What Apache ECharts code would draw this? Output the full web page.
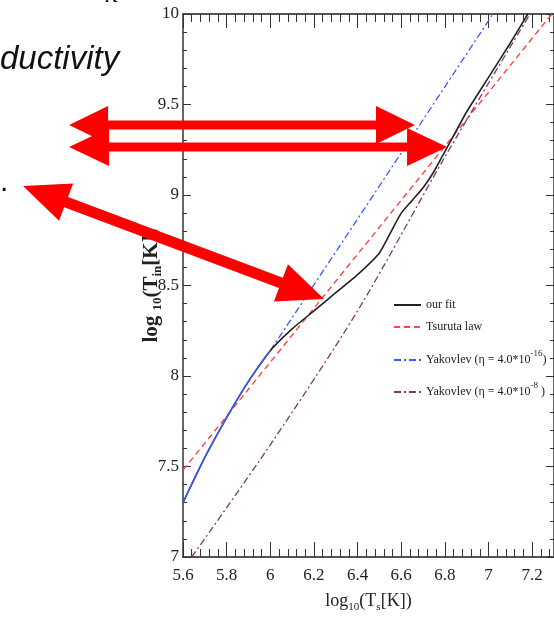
<!DOCTYPE html>
<html>
<head>
<meta charset="utf-8">
<script src="https://cdn.jsdelivr.net/npm/echarts@6/dist/echarts.min.js"></script>
<style>html,body{margin:0;padding:0;background:#fff}#main{width:554px;height:631px}</style>
</head>
<body>
<div id="main"></div>
<script>
// our fit
var fitX = [5.6, 5.7, 5.8, 5.9, 6.0, 6.1, 6.2, 6.3, 6.4, 6.5, 6.55, 6.6, 6.65, 6.7, 6.75, 6.8, 6.85, 6.9, 7.0, 7.1, 7.18];
var fitY = [7.30, 7.55, 7.77, 7.97, 8.14, 8.26, 8.36, 8.46, 8.56, 8.68, 8.79, 8.90, 8.97, 9.04, 9.13, 9.24, 9.35, 9.46, 9.65, 9.84, 10.0];
// Tsuruta law
var tsuX = [5.6, 7.29];
var tsuY = [7.48, 10.0];
// Yakovlev eta = 4.0e-16 (solid part under 6, then dash-dot)
var yak16LowX = [5.6, 5.7, 5.8, 5.9, 6.0];
var yak16LowY = [7.30, 7.55, 7.77, 7.97, 8.14];
var yak16X = [6.0, 6.5, 7.02];
var yak16Y = [8.14, 9.05, 10.0];
// Yakovlev eta = 4.0e-8
var yak8X = [5.64, 6.0, 6.4, 6.8, 7.19];
var yak8Y = [7.0, 7.62, 8.36, 9.21, 10.0];

var xTicks = ['5.6', '5.8', '6', '6.2', '6.4', '6.6', '6.8', '7', '7.2'];

// red annotation arrows, ends given in axis units
var arrows = [
    {from: [5.078, 9.387], to: [6.663, 9.387], hw: 4.5, len: 39, head: 19},
    {from: [5.078, 9.265], to: [6.810, 9.265], hw: 4.5, len: 40, head: 19},
    {from: [4.867, 9.050], to: [6.246, 8.425], hw: 5.5, len: 46, head: 20}
];

function zip(a, b) {
    return a.map(function (v, i) { return [v, b[i]]; });
}

var serif = '"Liberation Serif", "Times New Roman", serif';
var sub = {fontSize: 11, fontFamily: serif, verticalAlign: 'bottom', lineHeight: 12, color: '#222'};

var myChart = echarts.init(document.getElementById('main'));

function xAx(pos, interval, len, labels, name) {
    return {
        type: 'value', position: pos, min: 5.6, max: 7.3, interval: interval,
        axisLine: {show: interval > 0.1, onZero: false, lineStyle: {color: '#555', width: 2}},
        axisTick: {show: true, inside: true, length: len, lineStyle: {color: '#333', width: 1}},
        axisLabel: {
            show: labels, showMaxLabel: false, margin: 10,
            fontFamily: serif, fontSize: 17, color: '#222',
            formatter: function (v) {
                var s = String(Math.round(v * 10) / 10);
                return xTicks.indexOf(s) >= 0 ? s : '';
            }
        },
        splitLine: {show: false},
        name: name || '',
        nameLocation: 'middle',
        nameGap: 32,
        nameMoveOverlap: false,
        nameTextStyle: {
            fontFamily: serif, fontSize: 18, color: '#222', lineHeight: 24,
            rich: {sub: sub}
        }
    };
}

function yAx(pos, labels, name) {
    return {
        type: 'value', position: pos, min: 7, max: 10, interval: 0.5,
        axisLine: {show: true, onZero: false, lineStyle: {color: '#666', width: 2}},
        axisTick: {show: true, inside: true, length: 8, lineStyle: {color: '#333', width: 1}},
        minorTick: {show: true, splitNumber: 5, length: 4, lineStyle: {color: '#333', width: 1}},
        axisLabel: {show: labels, margin: 4, fontFamily: serif, fontSize: 17, color: '#222'},
        splitLine: {show: false},
        name: name || '',
        nameLocation: 'middle',
        nameGap: 19,
        nameMoveOverlap: false,
        nameTextStyle: {
            fontFamily: serif, fontSize: 21, fontWeight: 'bold', color: '#222', lineHeight: 24,
            rich: {sub: {fontSize: 13, fontFamily: serif, fontWeight: 'bold', verticalAlign: 'bottom', lineHeight: 12, color: '#222'}}
        }
    };
}

var legendNames = {
    'our fit': 'our fit',
    'Tsuruta law': 'Tsuruta law',
    'Yakovlev16': 'Yakovlev (η = 4.0*10{sup|-16})',
    'Yakovlev8': 'Yakovlev (η = 4.0*10{sup|-8} )'
};

function leg(name, top) {
    return {
        data: [name], left: 393, top: top, padding: 0,
        itemWidth: 27, itemHeight: 14, itemGap: 6,
        itemStyle: {opacity: 0},
        formatter: function (n) { return legendNames[n]; },
        textStyle: {
            fontFamily: serif, fontSize: 12, color: '#222', lineHeight: 22,
            rich: {sup: {fontFamily: serif, fontSize: 9, color: '#222', verticalAlign: 'top', lineHeight: 10}}
        }
    };
}

myChart.setOption({
    animation: false,
    backgroundColor: '#fff',
    grid: {left: 183, right: 0, top: 14, bottom: 74, outerBoundsMode: 'none'},
    legend: [
        leg('our fit', 294),
        leg('Tsuruta law', 316),
        leg('Yakovlev16', 349),
        leg('Yakovlev8', 381)
    ],
    xAxis: [
        xAx('bottom', 0.2, 15, true, 'log{sub|10}(T{sub|s}[K])'),
        xAx('bottom', 0.04, 8, false),
        xAx('top', 0.2, 14, false),
        xAx('top', 0.04, 8, false)
    ],
    yAxis: [
        yAx('left', true, 'log {sub|10}(T{sub|in}[K])'),
        yAx('right', false)
    ],
    series: [
        {
            name: 'our fit', type: 'line', data: zip(fitX, fitY), symbol: 'none', smooth: 0.2,
            lineStyle: {color: '#222', width: 1.6}, itemStyle: {color: '#222'}, z: 3
        },
        {
            name: 'Tsuruta law', type: 'line', data: zip(tsuX, tsuY), symbol: 'none',
            lineStyle: {color: '#ff4545', width: 1.4, type: [6, 4]}, itemStyle: {color: '#ff4545'}, z: 2
        },
        {
            name: 'Yakovlev16', type: 'line', data: zip(yak16X, yak16Y), symbol: 'none',
            lineStyle: {color: '#3b5bff', width: 1.3, type: [7, 3, 2, 3]}, itemStyle: {color: '#3b5bff'}, z: 2
        },
        {
            name: 'yak16low', type: 'line', data: zip(yak16LowX, yak16LowY), symbol: 'none', smooth: 0.3,
            lineStyle: {color: '#3b5bff', width: 1.5}, z: 4
        },
        {
            name: 'Yakovlev8', type: 'line', data: zip(yak8X, yak8Y), symbol: 'none', smooth: 0.3,
            lineStyle: {color: '#7d3a6e', width: 1.3, type: [7, 3, 2, 3]}, itemStyle: {color: '#7d3a6e'}, z: 2
        }
    ]
});

function arrowPoly(a, b, hw, L, H) {
    var dx = b[0] - a[0], dy = b[1] - a[1];
    var d = Math.sqrt(dx * dx + dy * dy);
    var ux = dx / d, uy = dy / d, nx = -uy, ny = ux;
    function p(o, s, t) { return [o[0] + ux * s + nx * t, o[1] + uy * s + ny * t]; }
    return [a, p(a, L, H), p(a, L, hw), p(b, -L, hw), p(b, -L, H), b,
            p(b, -L, -H), p(b, -L, -hw), p(a, L, -hw), p(a, L, -H)];
}

var graphics = [
    {type: 'text', x: 0, y: 43, z: 100, style: {text: 'ductivity', font: 'italic 33px "Liberation Sans", Arial, sans-serif', fill: '#111'}},
    {type: 'text', x: 106, y: -19, z: 100, style: {text: 'x', font: 'italic 28px "Liberation Serif", serif', fill: '#111'}},
    {type: 'text', x: 0, y: 168, z: 100, style: {text: '.', font: '30px "Liberation Sans", sans-serif', fill: '#111'}}
];
arrows.forEach(function (ar) {
    var a = myChart.convertToPixel({seriesIndex: 0}, ar.from);
    var b = myChart.convertToPixel({seriesIndex: 0}, ar.to);
    graphics.push({
        type: 'polygon', z: 100,
        shape: {points: arrowPoly(a, b, ar.hw, ar.len, ar.head)},
        style: {fill: '#ff0000'}
    });
});
myChart.setOption({graphic: graphics});
</script>
</body>
</html>
